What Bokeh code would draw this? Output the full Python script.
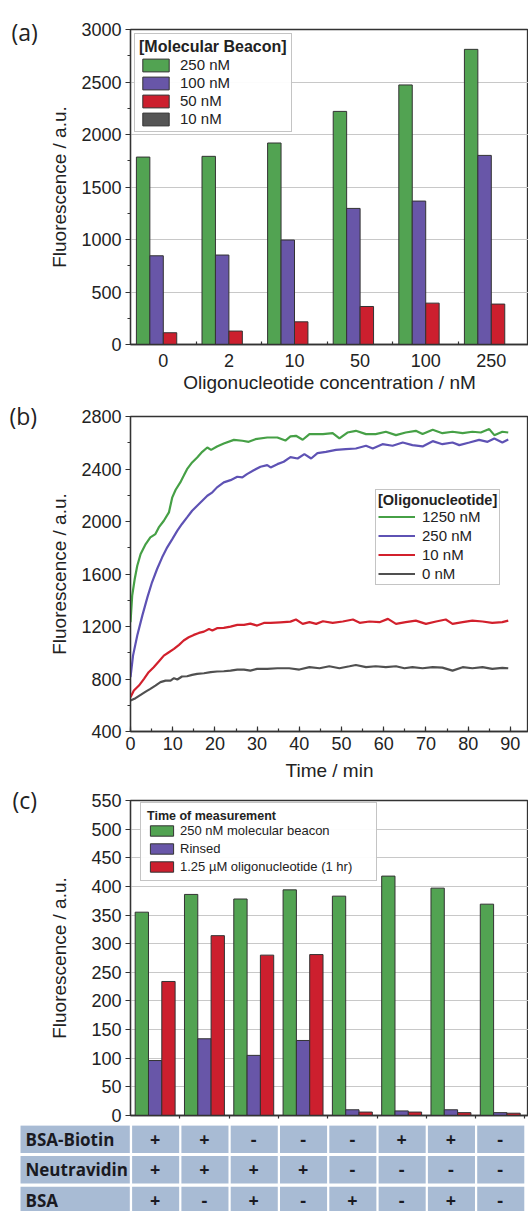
import numpy as np
from bokeh.plotting import figure
from bokeh.models import (Range1d, FixedTicker, SingleIntervalTicker, Legend,
                          LegendItem, Label, CustomJSTickFormatter)
from bokeh.layouts import column
from bokeh.embed import file_html
from bokeh.resources import INLINE
from bokeh.core.properties import value

FONT = "Liberation Sans"
TXT = "#222222"
GREEN = "#52a352"
PURPLE = "#6856a8"
RED = "#cc1f2e"
GRAY = "#555555"
EDGE = "#333333"

# ---------------- (a) data ----------------
oligo_conc = ["0", "2", "10", "50", "100", "250"]
mb_250 = [1785, 1792, 1919, 2220, 2472, 2811]
mb_100 = [845, 852, 995, 1296, 1366, 1801]
mb_50 = [112, 128, 216, 362, 394, 385]
mb_10 = [0, 0, 0, 0, 0, 0]

# ---------------- (b) data ----------------
t_1250 = [0, 0.4, 1.0, 1.6, 2.4, 3.6, 4.7, 5.9, 6.7, 7.9, 9.1, 9.9, 10.7, 11.8, 12.6,
          13.4, 14.6, 15.8, 17.0, 18.2, 19.1, 20.5, 22.1, 24.5, 26.5, 28.0, 29.6, 32.4,
          34.8, 36.7, 37.9, 39.2, 40.8, 42.4, 45.6, 47.9, 49.5, 51.4, 53.4, 55.8, 58.1,
          60.5, 62.9, 65.2, 67.6, 69.2, 71.6, 73.9, 76.3, 78.7, 81.0, 83.0, 85.0, 86.2,
          88.1, 89.5]
f_1250 = [1232, 1435, 1562, 1663, 1752, 1828, 1879, 1904, 1955, 2006, 2069, 2184, 2242,
          2298, 2348, 2399, 2450, 2488, 2531, 2564, 2546, 2572, 2594, 2622, 2615, 2607,
          2627, 2640, 2640, 2617, 2648, 2653, 2623, 2666, 2666, 2673, 2633, 2678, 2691,
          2666, 2666, 2684, 2658, 2678, 2691, 2666, 2699, 2673, 2684, 2673, 2684, 2678,
          2704, 2658, 2684, 2678]
t_250 = [0, 0.6, 1.6, 2.8, 4.0, 5.1, 6.3, 7.5, 8.7, 9.9, 11.1, 12.2, 13.4, 14.6, 15.8,
         17.0, 18.2, 19.4, 20.5, 22.1, 23.7, 25.3, 26.5, 27.6, 29.2, 30.8, 32.4, 33.2,
         34.8, 36.3, 37.9, 39.6, 41.2, 42.8, 44.3, 46.3, 48.7, 51.0, 53.4, 55.8, 57.4,
         59.7, 62.1, 64.5, 66.8, 69.2, 71.6, 73.9, 76.3, 77.9, 80.3, 82.6, 84.6, 86.2,
         88.1, 89.5]
f_250 = [814, 978, 1131, 1283, 1422, 1537, 1638, 1727, 1803, 1866, 1930, 1981, 2031,
         2082, 2120, 2158, 2196, 2222, 2260, 2298, 2315, 2341, 2336, 2361, 2391, 2417,
         2430, 2412, 2437, 2455, 2490, 2480, 2513, 2480, 2521, 2531, 2546, 2551, 2556,
         2577, 2556, 2589, 2577, 2602, 2582, 2572, 2612, 2589, 2602, 2582, 2602, 2622,
         2607, 2632, 2602, 2625]
t_10 = [0, 0.8, 2.0, 3.2, 4.3, 5.5, 6.7, 7.9, 9.1, 10.3, 11.5, 12.6, 13.8, 15.0, 16.2,
        17.4, 18.6, 19.4, 20.5, 22.1, 23.7, 25.3, 26.9, 28.4, 30.0, 31.6, 33.2, 35.5,
        37.9, 39.2, 40.8, 42.4, 44.0, 45.6, 47.9, 50.3, 52.7, 54.3, 56.6, 59.0, 61.0,
        62.9, 65.2, 67.6, 70.0, 72.4, 74.7, 76.3, 78.7, 81.0, 83.4, 85.7, 88.1, 89.5]
f_10 = [661, 712, 750, 801, 852, 890, 933, 978, 1004, 1029, 1060, 1093, 1118, 1136,
        1151, 1161, 1181, 1169, 1187, 1189, 1199, 1212, 1212, 1222, 1207, 1227, 1227,
        1232, 1237, 1253, 1220, 1233, 1220, 1240, 1228, 1238, 1253, 1228, 1238, 1233,
        1258, 1220, 1233, 1245, 1220, 1238, 1253, 1220, 1233, 1245, 1238, 1228, 1233,
        1245]
t_0 = [0, 1.2, 2.4, 3.6, 4.7, 5.9, 7.1, 8.3, 9.5, 10.3, 11.1, 12.2, 13.4, 14.6, 15.8,
       17.4, 19.0, 20.5, 22.1, 23.7, 25.3, 26.9, 28.4, 30.0, 32.4, 34.8, 37.6, 40.0,
       42.4, 44.8, 47.1, 49.5, 51.9, 53.4, 55.8, 58.1, 60.5, 62.9, 64.9, 66.8, 69.2,
       71.6, 73.9, 76.3, 78.7, 81.0, 83.4, 85.7, 88.1, 89.5]
f_0 = [636, 654, 679, 704, 725, 750, 776, 788, 788, 806, 796, 819, 821, 831, 839, 844,
       852, 857, 859, 864, 872, 872, 864, 877, 877, 882, 882, 872, 890, 882, 897, 882,
       897, 907, 890, 897, 890, 897, 882, 890, 882, 890, 887, 864, 890, 882, 890, 877,
       885, 882]

# ---------------- (c) data ----------------
beacon_250 = [355, 386, 378, 394, 383, 418, 397, 369]
rinsed = [96, 134, 105, 131, 10, 8, 10, 5]
oligo_1h = [234, 314, 280, 281, 6, 6, 5, 4]
row_names = ["BSA-Biotin", "Neutravidin", "BSA"]
bsa_biotin = ["+", "+", "-", "-", "-", "+", "+", "-"]
neutravidin = ["+", "+", "+", "+", "-", "-", "-", "-"]
bsa = ["+", "-", "+", "-", "+", "-", "+", "-"]

W = 528
LEFT = 130


def style(p):
    p.outline_line_color = EDGE
    p.outline_line_width = 1.3
    p.background_fill_color = "white"
    p.border_fill_color = "white"
    for ax in p.axis:
        ax.axis_line_color = EDGE
        ax.axis_line_width = 1.3
        ax.major_tick_line_color = EDGE
        ax.minor_tick_line_color = EDGE
        ax.major_tick_line_width = 1.2
        ax.minor_tick_line_width = 1.2
        ax.major_label_text_font = FONT
        ax.major_label_text_font_size = "18px"
        ax.major_label_text_color = TXT
        ax.axis_label_text_font = FONT
        ax.axis_label_text_font_size = "19px"
        ax.axis_label_text_font_style = "normal"
        ax.axis_label_text_color = TXT


def left_axis(p, interval, minor, standoff):
    ax = p.yaxis[0]
    ax.ticker = SingleIntervalTicker(interval=interval, num_minor_ticks=minor)
    ax.major_tick_in = 0
    ax.major_tick_out = 5
    ax.minor_tick_in = 0
    ax.minor_tick_out = 3 if minor else 0
    ax.major_label_standoff = 4
    ax.axis_label = "Fluorescence / a.u."
    ax.axis_label_standoff = standoff


def panel_label(p, txt, y):
    p.add_layout(Label(x=-9, y=y, x_units="screen", y_units="screen", text=txt,
                       text_font="Open Sans", text_font_size="23px",
                       text_baseline="middle", text_color=TXT), "left")


# ================= (a) =================
pa = figure(width=W, height=395, output_backend="svg", toolbar_location=None,
            x_range=Range1d(-0.5, 5.567), y_range=Range1d(0, 3000),
            min_border_left=LEFT, min_border_right=0, min_border_top=29,
            min_border_bottom=51)
style(pa)
xi = np.arange(len(oligo_conc))
wa = 0.205
ra = []
for k, (vals, col) in enumerate([(mb_250, GREEN), (mb_100, PURPLE), (mb_50, RED), (mb_10, GRAY)]):
    ra.append(pa.vbar(x=xi + (k - 1.5) * wa, top=vals, width=wa, bottom=0,
                      fill_color=col, line_color=EDGE, line_width=1))
left_axis(pa, 500, 2, 8)
xa = pa.xaxis[0]
xa.ticker = FixedTicker(ticks=list(xi), minor_ticks=list(xi[:-1] + 0.5))
xa.major_label_overrides = {int(i): s for i, s in zip(xi, oligo_conc)}
xa.major_tick_in = 0
xa.major_tick_out = 0
xa.minor_tick_in = 3
xa.minor_tick_out = 0
xa.major_label_standoff = 9
xa.axis_label = "Oligonucleotide concentration / nM"
xa.axis_label_standoff = 2
pa.xgrid.visible = False
pa.ygrid.grid_line_color = "#c8c8c8"
pa.ygrid.grid_line_width = 1
leg_a = Legend(items=[LegendItem(label=l, renderers=[r]) for l, r in
                      zip(["250 nM", "100 nM", "50 nM", "10 nM"], ra)],
               location="top_left", margin=4, padding=4,
               title="[Molecular Beacon]", title_text_font=FONT,
               title_text_font_style="bold", title_text_font_size="16px",
               title_standoff=0, title_text_color=TXT,
               label_text_font=FONT, label_text_font_size="15px", label_text_color=TXT,
               glyph_width=33, glyph_height=16, label_height=16, spacing=1,
               label_standoff=8, border_line_color="#8a8a8a", border_line_width=1.5)
pa.add_layout(leg_a)
panel_label(pa, "(a)", 313)

# ================= (b) =================
pb = figure(width=W, height=389, output_backend="svg", toolbar_location=None,
            x_range=Range1d(0, 94.3), y_range=Range1d(400, 2800),
            min_border_left=LEFT, min_border_right=0, min_border_top=21,
            min_border_bottom=53)
style(pb)
rb = []
for tt, ff, col in [(t_1250, f_1250, "#46a046"), (t_250, f_250, "#5e52b4"),
                    (t_10, f_10, "#d2202c"), (t_0, f_0, "#505050")]:
    rb.append(pb.line(tt, ff, line_color=col, line_width=2.2))
left_axis(pb, 400, 2, 8)
xb = pb.xaxis[0]
xb.ticker = SingleIntervalTicker(interval=10, num_minor_ticks=2)
xb.major_tick_in = 5
xb.major_tick_out = 0
xb.minor_tick_in = 3
xb.minor_tick_out = 0
xb.major_label_standoff = 5
xb.axis_label = "Time / min"
xb.axis_label_standoff = 7
pb.grid.visible = False
leg_b = Legend(items=[LegendItem(label=l, renderers=[r]) for l, r in
                      zip(["1250 nM", "250 nM", "10 nM", "0 nM"], rb)],
               location=(245, 146), padding=2,
               title="[Oligonucleotide]", title_text_font=FONT,
               title_text_font_style="bold", title_text_font_size="14.5px",
               title_standoff=0, title_text_color=TXT,
               label_text_font=FONT, label_text_font_size="15px", label_text_color=TXT,
               glyph_width=37, glyph_height=15, label_height=15, spacing=2,
               label_standoff=7, border_line_color="#8a8a8a", border_line_width=1.5)
pb.add_layout(leg_b)
panel_label(pb, "(b)", 316)

# ================= (c) =================
pc = figure(width=W, height=341, output_backend="svg", toolbar_location=None,
            x_range=Range1d(-0.5, 7.573), y_range=Range1d(0, 550),
            min_border_left=LEFT, min_border_right=0, min_border_top=16,
            min_border_bottom=10)
style(pc)
xc = np.arange(len(beacon_250))
wc = 0.27
rc = []
for k, (vals, col) in enumerate([(beacon_250, GREEN), (rinsed, PURPLE), (oligo_1h, RED)]):
    rc.append(pc.vbar(x=xc + (k - 1) * wc, top=vals, width=wc, bottom=0,
                      fill_color=col, line_color=EDGE, line_width=1))
left_axis(pc, 50, 0, 18)
xcx = pc.xaxis[0]
xcx.ticker = FixedTicker(ticks=list(xc + 0.5))
xcx.formatter = CustomJSTickFormatter(code="return ''")
xcx.major_tick_in = 0
xcx.major_tick_out = 3
xcx.major_label_standoff = 0
xcx.major_label_text_font_size = "1px"
pc.xgrid.visible = False
pc.ygrid.grid_line_color = "#c8c8c8"
leg_c = Legend(items=[LegendItem(label=l, renderers=[r]) for l, r in
                      zip(["250 nM molecular beacon", "Rinsed",
                           "1.25 \u00b5M oligonucleotide (1 hr)"], rc)],
               location=(10, 234), padding=6,
               title="Time of measurement", title_text_font=FONT,
               title_text_font_style="bold", title_text_font_size="12.5px",
               title_standoff=0, title_text_color=TXT,
               label_text_font=FONT, label_text_font_size="13px", label_text_color=TXT,
               glyph_width=29, glyph_height=13, label_height=13, spacing=3,
               label_width=190, label_standoff=4,
               border_line_color="#8a8a8a", border_line_width=1.5)
pc.add_layout(leg_c)
panel_label(pc, "(c)", 316)

# ================= table =================
pt = figure(width=W, height=86, output_backend="svg", toolbar_location=None,
            x_range=Range1d(-3.137, 7.573), y_range=Range1d(2.3595, -0.4455),
            min_border=0, x_axis_type=None, y_axis_type=None)
pt.frame_align = False
pt.outline_line_color = None
pt.grid.visible = False
CELL = "#a8bbd4"
rows = [bsa_biotin, neutravidin, bsa]
for r, (name, signs) in enumerate(zip(row_names, rows)):
    pt.rect(x=[-1.6225], y=[r], width=2.217, height=0.9, fill_color=CELL, line_color=None)
    pt.text(x=[-2.63], y=[r], text=[name], text_font=value("Open Sans"),
            text_font_style="bold", text_font_size="17px", text_color="#1a1a22",
            text_baseline="middle", text_align="left")
    pt.rect(x=xc + 0.01, y=[r] * len(xc), width=0.955, height=0.9,
            fill_color=CELL, line_color=None)
    pt.text(x=xc, y=[r] * len(xc), text=signs, text_font=value("Open Sans"),
            text_font_style="bold", text_font_size="18px", text_color="#1a1a22",
            text_baseline="middle", text_align="center")

layout = column(pa, pb, pc, pt, spacing=0)
open("out.html", "w").write(file_html(layout, INLINE))
